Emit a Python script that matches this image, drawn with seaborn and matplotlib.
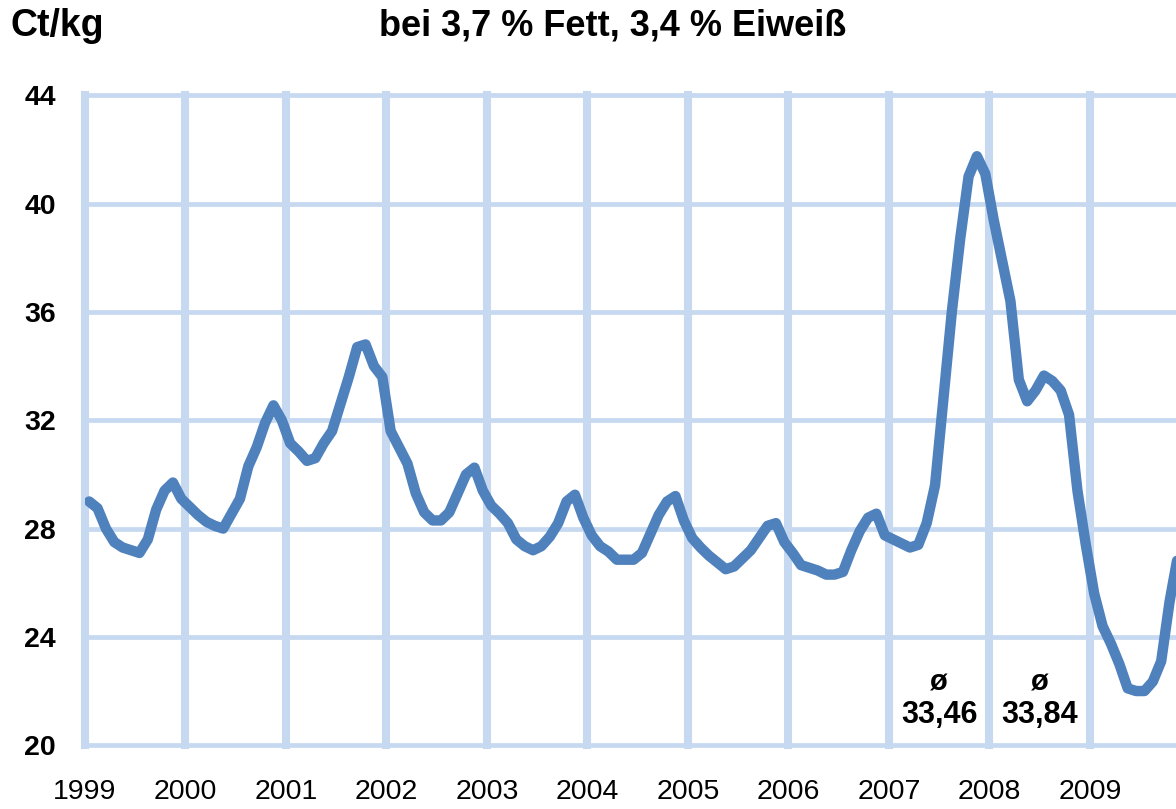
import matplotlib
matplotlib.use("Agg")
import matplotlib.pyplot as plt
import seaborn as sns
import pandas as pd

# ---------------- data ----------------
years = [1999, 2000, 2001, 2002, 2003, 2004, 2005, 2006, 2007, 2008, 2009]
price_1999 = [29.0, 28.75, 28.0, 27.5, 27.3, 27.2, 27.1, 27.6, 28.7, 29.4, 29.7, 29.1]
price_2000 = [28.8, 28.5, 28.25, 28.1, 28.0, 28.55, 29.1, 30.3, 31.0, 31.9, 32.55, 32.0]
price_2001 = [31.15, 30.85, 30.5, 30.6, 31.15, 31.6, 32.6, 33.6, 34.7, 34.8, 34.0, 33.6]
price_2002 = [31.6, 31.0, 30.4, 29.3, 28.6, 28.3, 28.3, 28.6, 29.3, 30.0, 30.25, 29.4]
price_2003 = [28.85, 28.55, 28.2, 27.6, 27.35, 27.2, 27.35, 27.7, 28.2, 29.0, 29.25, 28.4]
price_2004 = [27.75, 27.35, 27.15, 26.85, 26.85, 26.85, 27.1, 27.8, 28.5, 29.0, 29.2, 28.3]
price_2005 = [27.65, 27.3, 27.0, 26.75, 26.5, 26.6, 26.9, 27.2, 27.65, 28.1, 28.2, 27.5]
price_2006 = [27.1, 26.65, 26.55, 26.45, 26.3, 26.3, 26.4, 27.2, 27.9, 28.4, 28.55, 27.75]
price_2007 = [27.6, 27.45, 27.3, 27.4, 28.2, 29.6, 32.8, 36.0, 38.7, 41.0, 41.75, 41.1]
price_2008 = [39.4, 37.9, 36.4, 33.5, 32.7, 33.1, 33.65, 33.45, 33.1, 32.2, 29.4, 27.4]
price_2009 = [25.6, 24.4, 23.75, 23.0, 22.1, 22.0, 22.0, 22.35, 23.1, 25.3, 27.0]

y_ticks = [20, 24, 28, 32, 36, 40, 44]
x_tick_labels = [str(y) for y in years]
unit_label = "Ct/kg"
title_text = "bei 3,7 % Fett, 3,4 % Eiweiß"
avg_years = [2007, 2008]
avg_values = ["33,46", "33,84"]
avg_symbol = "ø"

# ---------------- build frame ----------------
series = [price_1999, price_2000, price_2001, price_2002, price_2003, price_2004,
          price_2005, price_2006, price_2007, price_2008, price_2009]
rows = []
for yr, vals in zip(years, series):
    for m, v in enumerate(vals, start=1):
        rows.append({"year": yr, "month": m, "price": v})
df = pd.DataFrame(rows)
df["t"] = df["year"] + (df["month"] - 0.5) / 12.0

# ---------------- style ----------------
sns.set_theme(style="white")
plt.rcParams["font.family"] = ["Liberation Sans", "DejaVu Sans"]

W, H = 1176, 809
fig = plt.figure(figsize=(W / 100, H / 100), dpi=100)
ax_left, ax_right, ax_top, ax_bottom = 85, 1176, 95.3, 745.2
ax = fig.add_axes([ax_left / W, 1 - ax_bottom / H, (ax_right - ax_left) / W, (ax_bottom - ax_top) / H])

line_color = "#4F81BD"
grid_color = "#C6D9F1"

sns.lineplot(data=df, x="t", y="price", color=line_color, linewidth=7.5, ax=ax,
             solid_joinstyle="round", solid_capstyle="round", zorder=3)

x_right = 1999 + (ax_right - ax_left) / 100.5
ax.set_xlim(1999, x_right)
ax.set_ylim(20, 44)
ax.set_xticks(years)
ax.set_xticklabels(x_tick_labels)
ax.set_yticks(y_ticks)
ax.set_yticklabels([str(v) for v in y_ticks])
ax.set_xlabel("")
ax.set_ylabel("")

for s in ax.spines.values():
    s.set_visible(False)

ax.set_axisbelow(True)
ax.grid(axis="x", color=grid_color, linewidth=5.8)
ax.grid(axis="y", color=grid_color, linewidth=3.4)
for gl in ax.get_xgridlines() + ax.get_ygridlines():
    gl.set_clip_on(False)
    gl.set_solid_capstyle("projecting")

ax.tick_params(axis="x", length=0, pad=24, labelsize=20.5, labelcolor="black")
ax.tick_params(axis="y", length=0, pad=21, labelsize=20.5, labelcolor="black")
for lab in ax.get_yticklabels():
    lab.set_fontweight("bold")

# annotations: yearly averages
for yr, val in zip(avg_years, avg_values):
    ax.text(yr + 0.5, 22.3, avg_symbol, ha="center", va="center",
            fontsize=21, fontweight="bold", color="black")
    ax.text(yr + 0.5, 21.1, val, ha="center", va="center",
            fontsize=22, fontweight="bold", color="black")

fig.text(10 / W, 1 - 26 / H, unit_label, ha="left", va="center",
         fontsize=27, fontweight="bold", color="black")
fig.text(613 / W, 1 - 26 / H, title_text, ha="center", va="center",
         fontsize=26, fontweight="bold", color="black")

fig.savefig("out.png", dpi=100, facecolor="white")
